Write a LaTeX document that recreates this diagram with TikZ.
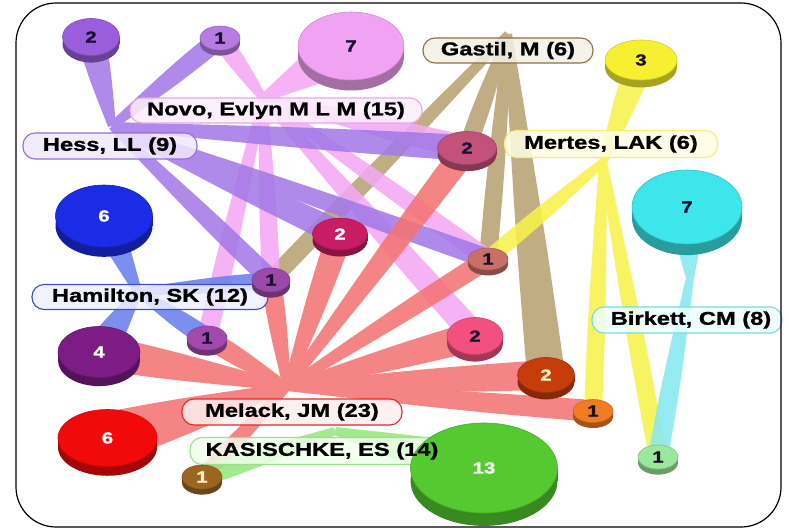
\documentclass[tikz,border=0pt]{standalone}
\usepackage{fontspec}
\newfontfamily\labfont{Liberation Sans}[FakeStretch=1.28, BoldFeatures={FakeBold=1.3}]
\usetikzlibrary{calc,shapes.geometric}
\pgfdeclarelayer{back}\pgfdeclarelayer{bands}\pgfdeclarelayer{lbl}\pgfdeclarelayer{front}
\pgfsetlayers{back,bands,lbl,main,front}
% band colours
\definecolor{cHess}{HTML}{A47AE8}
\definecolor{cNovo}{HTML}{F4A8F4}
\definecolor{cMel}{HTML}{F47474}
\definecolor{cGas}{HTML}{B8A274}
\definecolor{cMer}{HTML}{F8F24A}
\definecolor{cBir}{HTML}{88E8F0}
\definecolor{cHam}{HTML}{6C80EC}
\definecolor{cKas}{HTML}{96E87E}
% label colours
\definecolor{bNovo}{HTML}{E8A8E8}\definecolor{fNovo}{HTML}{FCEEFC}
\definecolor{bHess}{HTML}{9070D8}\definecolor{fHess}{HTML}{F0E8FC}
\definecolor{bGas}{HTML}{8A7048}\definecolor{fGas}{HTML}{F4F0E4}
\definecolor{bMer}{HTML}{F2EE78}\definecolor{fMer}{HTML}{FFFDE4}
\definecolor{bHam}{HTML}{3C4CCC}\definecolor{fHam}{HTML}{EEF0FE}
\definecolor{bBir}{HTML}{78DCDC}\definecolor{fBir}{HTML}{EEFEFE}
\definecolor{bMel}{HTML}{E02828}\definecolor{fMel}{HTML}{FDEEEE}
\definecolor{bKas}{HTML}{9CE08C}\definecolor{fKas}{HTML}{F0FEEC}
% disc colours
\definecolor{kA}{HTML}{9A5EDC}\definecolor{kB}{HTML}{B77BE2}
\definecolor{kC}{HTML}{F2A2F2}\definecolor{kD}{HTML}{F6F030}
\definecolor{kE}{HTML}{C2527A}\definecolor{kF}{HTML}{3CE6EA}
\definecolor{kG}{HTML}{1C2CE6}\definecolor{kH}{HTML}{C81C64}
\definecolor{kI}{HTML}{9C4AAA}\definecolor{kJ}{HTML}{C87068}
\definecolor{kK}{HTML}{A24AAC}\definecolor{kL}{HTML}{7C1C84}
\definecolor{kM}{HTML}{F2507E}\definecolor{kN}{HTML}{C63C0A}
\definecolor{kO}{HTML}{F27C24}\definecolor{kP}{HTML}{F20A0A}
\definecolor{kQ}{HTML}{9C6622}\definecolor{kR}{HTML}{54CA30}
\definecolor{kS}{HTML}{9AE89A}
\definecolor{tDark}{HTML}{1A1030}\definecolor{tCream}{HTML}{FFF0C8}

\newcommand\disc[8]{% name, x, y, rx, ry, colour, text colour, label
  \pgfmathsetmacro\rimd{0.22*#5+3}%
  \fill[#6!68!black] (#2-#4,#3) rectangle (#2+#4,#3+\rimd);
  \fill[#6!68!black] (#2,#3+\rimd) ellipse [x radius=#4pt, y radius=#5pt];
  \node[ellipse, fill=#6, draw=#6!85!black, line width=.6pt,
        minimum width=2*#4pt, minimum height=2*#5pt,
        inner sep=0pt, text=#7, disctxt] (#1) at (#2,#3) {#8};
}
\newcommand\band[4]{% colour, hub, disc, half width at disc
  \pgfmathsetlengthmacro\wone{#4}%
  \pgfmathsetlengthmacro\wmid{0.6*#4+3.5}%
  \fill[#1] ($(#2)!4pt!90:(#3)$)
     .. controls ($(#2)!0.6!(#3)!\wmid!90:(#3)$) .. ($(#3)!\wone!-90:(#2)$)
     -- ($(#3)!\wone!90:(#2)$)
     .. controls ($(#2)!0.6!(#3)!\wmid!-90:(#3)$) .. ($(#2)!4pt!-90:(#3)$) -- cycle;
}

\begin{document}
\begin{tikzpicture}[x=1pt,y=-1pt,
  lab/.style 2 args={draw=#1, fill=#2, fill opacity=.85, line width=1.1pt,
     rounded corners=12pt, minimum height=25pt, inner sep=0pt},
  labtxt/.style={font=\labfont\bfseries\fontsize{18.5}{19}\selectfont, text=black, inner sep=0pt},
  disctxt/.style={font=\labfont\bfseries\fontsize{16}{16}\selectfont}]
\useasboundingbox (0,0) rectangle (788,530);
\begin{pgfonlayer}{back}
  \fill[white] (0,0) rectangle (788,530);
\end{pgfonlayer}

% discs
\disc{dA}{91}{37}{28.5}{18.5}{kA}{tDark}{2}
\disc{dB}{220}{38}{20}{12}{kB}{tDark}{1}
\disc{dC}{351}{46}{53}{34}{kC}{tDark}{7}
\disc{dD}{641}{60}{36}{20}{kD}{tDark}{3}
\disc{dE}{467}{148}{29.5}{16.5}{kE}{tDark}{2}
\disc{dF}{687}{207}{55}{37}{kF}{tDark}{7}
\disc{dG}{104}{216}{48.5}{31}{kG}{white}{6}
\disc{dH}{340}{234}{27.5}{16}{kH}{white}{2}
\disc{dI}{271}{280}{19}{12}{kI}{tDark}{1}
\disc{dJ}{488}{259}{20}{11}{kJ}{tDark}{1}
\disc{dK}{207}{338}{20}{12}{kK}{tDark}{1}
\disc{dL}{99}{352}{41}{25.5}{kL}{white}{4}
\disc{dM}{475}{336}{28}{18.5}{kM}{tDark}{2}
\disc{dN}{546}{375}{28.5}{17.5}{kN}{tCream}{2}
\disc{dO}{593}{411}{20}{11.5}{kO}{tDark}{1}
\disc{dP}{107.5}{438}{49.5}{28.5}{kP}{white}{6}
\disc{dQ}{202}{477}{20}{12}{kQ}{tCream}{1}
\disc{dR}{484}{468}{73.5}{45}{kR}{white}{13}
\disc{dS}{658}{457}{20}{12}{kS}{tDark}{1}

% hubs
\coordinate (hHess) at (112,126);
\coordinate (hNovo) at (263,98);
\coordinate (hHam) at (138,292);
\coordinate (hMel) at (287,387);
\coordinate (hGas) at (508,34);
\coordinate (hMer) at (603,162);
\coordinate (hBir) at (690,278);
\coordinate (hKas) at (335,431);

\begin{pgfonlayer}{bands}
\begin{scope}[transparency group, opacity=.88]
  \band{cGas}{hGas}{dI}{9}\band{cGas}{hGas}{dJ}{9}
  \band{cGas}{hGas}{dN}{19}\band{cGas}{hGas}{dE}{9}
\end{scope}
\begin{scope}[transparency group, opacity=.88]
  \band{cNovo}{hNovo}{dC}{24}\band{cNovo}{hNovo}{dB}{9}
  \band{cNovo}{hNovo}{dE}{12}\band{cNovo}{hNovo}{dJ}{9}
  \band{cNovo}{hNovo}{dM}{13}\band{cNovo}{hNovo}{dK}{10}
  \band{cNovo}{hNovo}{dI}{9}
\end{scope}
\begin{scope}[transparency group, opacity=.88]
  \band{cHess}{hHess}{dA}{14}\band{cHess}{hHess}{dB}{10}
  \band{cHess}{hHess}{dE}{13}\band{cHess}{hHess}{dI}{10}
  \band{cHess}{hHess}{dH}{13}\band{cHess}{hHess}{dJ}{10}
\end{scope}
\begin{scope}[transparency group, opacity=.88]
  \band{cHam}{hHam}{dG}{14}\band{cHam}{hHam}{dL}{16}
  \band{cHam}{hHam}{dK}{10}\band{cHam}{hHam}{dI}{8}
\end{scope}
\begin{scope}[transparency group, opacity=.88]
  \band{cMel}{hMel}{dL}{18}\band{cMel}{hMel}{dP}{26}
  \band{cMel}{hMel}{dK}{10}\band{cMel}{hMel}{dI}{10}
  \band{cMel}{hMel}{dH}{13}\band{cMel}{hMel}{dE}{13}
  \band{cMel}{hMel}{dJ}{10}\band{cMel}{hMel}{dM}{15}
  \band{cMel}{hMel}{dN}{15}\band{cMel}{hMel}{dO}{11}
  \band{cMel}{hMel}{dQ}{8}
\end{scope}
\begin{scope}[transparency group, opacity=.88]
  \band{cMer}{hMer}{dD}{14}\band{cMer}{hMer}{dJ}{8}
  \band{cMer}{hMer}{dO}{9}\band{cMer}{hMer}{dS}{9}
\end{scope}
\begin{scope}[transparency group, opacity=.88]
  \band{cBir}{hBir}{dF}{18}\band{cBir}{hBir}{dS}{10}
\end{scope}
\begin{scope}[transparency group, opacity=.88]
  \band{cKas}{hKas}{dR}{22}\band{cKas}{hKas}{dQ}{10}
\end{scope}
\end{pgfonlayer}

% label boxes
\begin{pgfonlayer}{lbl}
  \node[lab={bNovo}{fNovo}, minimum width=292pt] (lNovo) at (276,110.5) {};
  \node[lab={bHess}{fHess}, minimum width=174pt, minimum height=26pt] (lHess) at (110,146) {};
  \node[lab={bGas}{fGas}, minimum width=170pt] (lGas) at (508,50.5) {};
  \node[lab={bMer}{fMer}, minimum width=213pt, minimum height=27pt] (lMer) at (611,144) {};
  \node[lab={bHam}{fHam}, minimum width=236pt] (lHam) at (150,297) {};
  \node[lab={bBir}{fBir}, minimum width=190pt, minimum height=26pt] (lBir) at (687,320) {};
  \node[lab={bMel}{fMel}, minimum width=220pt, minimum height=26pt] (lMel) at (292,412) {};
  \node[lab={bKas}{fKas}, minimum width=256pt, minimum height=27pt] (lKas) at (318,451) {};
\end{pgfonlayer}

\begin{pgfonlayer}{front}
  \node[labtxt] (tNovo) at (lNovo) {Novo, Evlyn M L M (15)};
  \node[labtxt] (tHess) at (lHess) {Hess, LL (9)};
  \node[labtxt] (tGas) at (lGas) {Gastil, M (6)};
  \node[labtxt] (tMer) at (lMer) {Mertes, LAK (6)};
  \node[labtxt] (tHam) at (lHam) {Hamilton, SK (12)};
  \node[labtxt] (tBir) at ([xshift=4pt]lBir.center) {Birkett, CM (8)};
  \node[labtxt] (tMel) at (lMel) {Melack, JM (23)};
  \node[labtxt] (tKas) at ([xshift=4pt]lKas.center) {KASISCHKE, ES (14)};
  \draw[line width=1.2pt, rounded corners=40pt] (16,3) rectangle (781,527);
\end{pgfonlayer}
\end{tikzpicture}
\end{document}
